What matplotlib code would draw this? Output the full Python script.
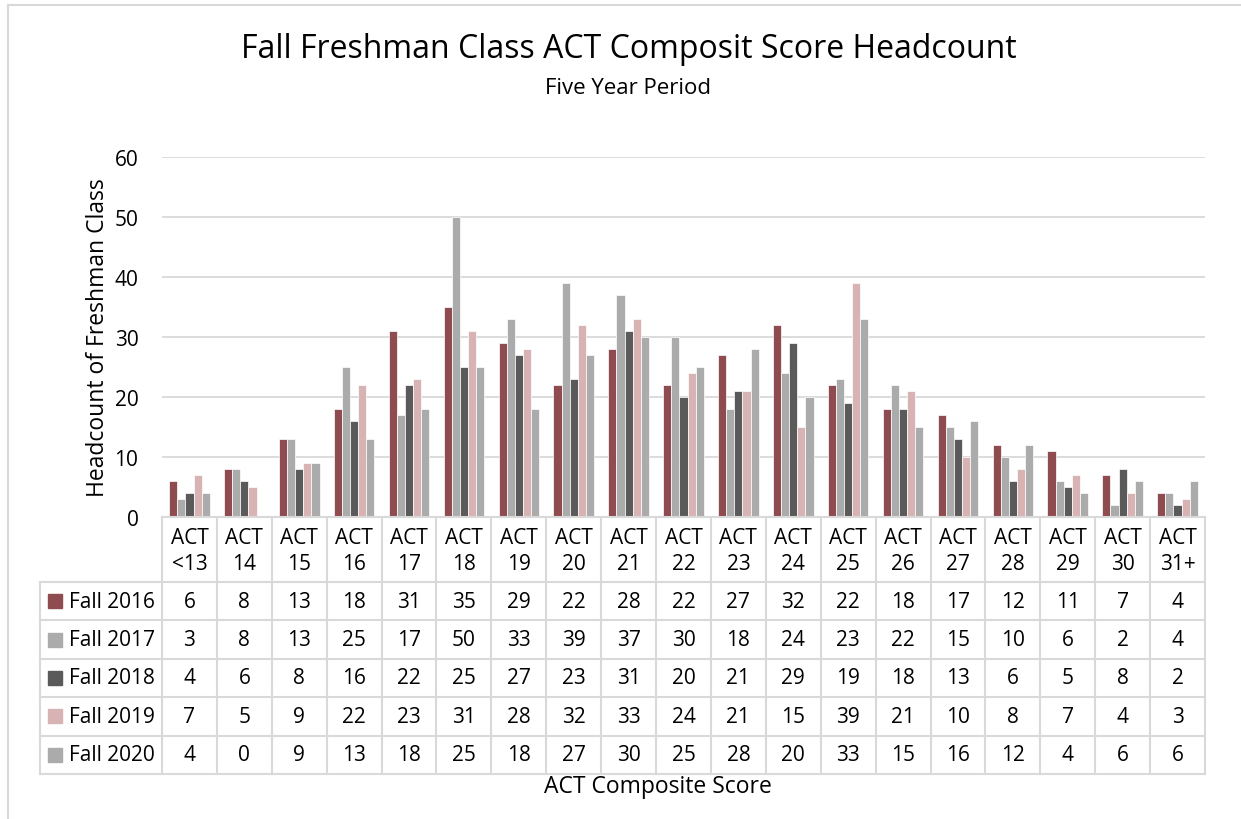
import numpy as np
import matplotlib.pyplot as plt
from matplotlib.patches import Rectangle

plt.rcParams['font.family'] = ['Open Sans', 'DejaVu Sans']

# データ
categories = ["ACT\n<13", "ACT\n14", "ACT\n15", "ACT\n16", "ACT\n17", "ACT\n18", "ACT\n19",
              "ACT\n20", "ACT\n21", "ACT\n22", "ACT\n23", "ACT\n24", "ACT\n25", "ACT\n26",
              "ACT\n27", "ACT\n28", "ACT\n29", "ACT\n30", "ACT\n31+"]
series_names = ["Fall 2016", "Fall 2017", "Fall 2018", "Fall 2019", "Fall 2020"]
fall_2016 = [6, 8, 13, 18, 31, 35, 29, 22, 28, 22, 27, 32, 22, 18, 17, 12, 11, 7, 4]
fall_2017 = [3, 8, 13, 25, 17, 50, 33, 39, 37, 30, 18, 24, 23, 22, 15, 10, 6, 2, 4]
fall_2018 = [4, 6, 8, 16, 22, 25, 27, 23, 31, 20, 21, 29, 19, 18, 13, 6, 5, 8, 2]
fall_2019 = [7, 5, 9, 22, 23, 31, 28, 32, 33, 24, 21, 15, 39, 21, 10, 8, 7, 4, 3]
fall_2020 = [4, 0, 9, 13, 18, 25, 18, 27, 30, 25, 28, 20, 33, 15, 16, 12, 4, 6, 6]
series = [fall_2016, fall_2017, fall_2018, fall_2019, fall_2020]
colors = ["#8E4B50", "#ABABAB", "#5A5A5A", "#D8B3B3", "#ABABAB"]

W, H = 1241, 820
fig = plt.figure(figsize=(W / 100, H / 100), dpi=100)

def fx(px):
    return px / W

def fy(py):
    return 1 - py / H

# 枠線（左と上だけ見える）
fig.add_artist(plt.Line2D([fx(8), fx(8)], [0, fy(6)], color="#D9D9D9", lw=1.5))
fig.add_artist(plt.Line2D([fx(8), 1], [fy(6), fy(6)], color="#D9D9D9", lw=1.5))

left_px, right_px = 162, 1205
top_px, bot_px = 158, 518
ax = fig.add_axes([fx(left_px), fy(bot_px), fx(right_px - left_px), (bot_px - top_px) / H])
n = len(categories)
x = np.arange(n)
bw = 0.148
for i, (vals, c) in enumerate(zip(series, colors)):
    ax.bar(x + (i - 2) * bw, vals, width=bw, color=c, edgecolor="white", linewidth=0.5, zorder=3)
ax.set_xlim(-0.5, n - 0.5)
ax.set_ylim(0, 60)
ax.set_yticks(range(0, 61, 10))
ax.yaxis.grid(True, color="#D9D9D9", lw=1.3, zorder=0)
ax.set_xticks([])
for s in ax.spines.values():
    s.set_visible(False)
ax.tick_params(axis="y", length=0, labelsize=15, pad=17)
ax.set_ylabel("Headcount of Freshman Class", fontsize=16.5, labelpad=3)

# 表
tab_left = 40
colw = (right_px - left_px) / n
tab_bot = 775
ta = fig.add_axes([fx(tab_left), fy(tab_bot), fx(right_px - tab_left), (tab_bot - bot_px) / H])
xl = -0.5 - (left_px - tab_left) / colw
ta.set_xlim(xl, n - 0.5)
row_h = (775 - 583) / 5
ta.set_ylim(tab_bot, bot_px)  # ピクセル座標（上下反転）
ta.axis("off")
gc = "#D9D9D9"
lw = 1.5
# 縦線
for k in range(n + 1):
    ta.plot([k - 0.5, k - 0.5], [bot_px, tab_bot], color=gc, lw=lw, clip_on=False)
ta.plot([xl, xl], [583, tab_bot], color=gc, lw=lw, clip_on=False)
# 横線
ta.plot([-0.5, n - 0.5], [bot_px, bot_px], color=gc, lw=lw, clip_on=False)
for r in range(6):
    yy = 583 + r * row_h
    ta.plot([xl, n - 0.5], [yy, yy], color=gc, lw=lw, clip_on=False)
for k, cat in enumerate(categories):
    ta.text(k, (bot_px + 583) / 2 + 1, cat, ha="center", va="center", fontsize=15, linespacing=1.25)
for r, (name, vals, c) in enumerate(zip(series_names, series, colors)):
    yc = 583 + (r + 0.5) * row_h
    ta.add_patch(Rectangle((xl + 0.15, yc - 7), 14 / colw, 14, color=c, clip_on=False))
    ta.text(xl + 0.52, yc, name, ha="left", va="center", fontsize=15)
    for k, v in enumerate(vals):
        ta.text(k, yc, str(v), ha="center", va="center", fontsize=15)

fig.text(fx(629), fy(50), "Fall Freshman Class ACT Composit Score Headcount", ha="center", va="center", fontsize=23)
fig.text(fx(628), fy(89), "Five Year Period", ha="center", va="center", fontsize=16)
fig.text(fx(658), fy(787), "ACT Composite Score", ha="center", va="center", fontsize=16.5)

fig.savefig("out.png", dpi=100)
